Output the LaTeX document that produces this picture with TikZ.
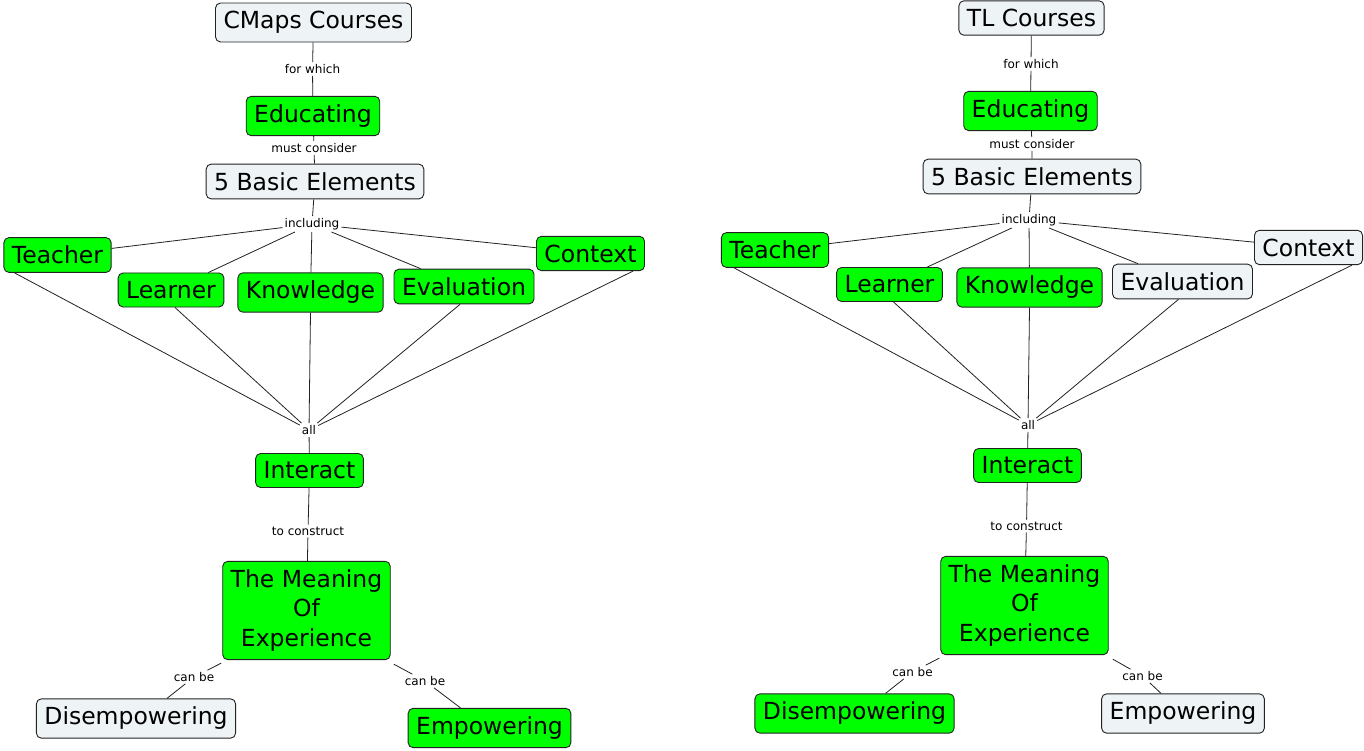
\documentclass[tikz,border=0pt]{standalone}
\usepackage{fontspec}
\setmainfont{DejaVu Sans}
\definecolor{cgreen}{HTML}{00FF00}
\definecolor{cwhite}{HTML}{EEF3F6}
\definecolor{cline}{HTML}{222222}
\begin{document}
\begin{tikzpicture}[x=1pt,y=-1pt,
  concept/.style={draw=cline, line width=0.9pt, rounded corners=5pt, inner xsep=8pt, inner ysep=8.3pt, font=\fontsize{23.5}{29.5}\selectfont, align=center},
  gbox/.style={concept, fill=cgreen},
  wbox/.style={concept, fill=cwhite},
  lab/.style={inner sep=2pt, font=\fontsize{12}{14}\selectfont},
  link/.style={draw=cline, line width=0.8pt}]
\useasboundingbox[fill=white] (0,0) rectangle (1364,750);

% ---------- left map ----------
\node[wbox] (cc) at (313.5,22.5) {CMaps Courses};
\node[lab]  (fw) at (312.5,69) {for which};
\node[gbox] (ed) at (313,116) {Educating};
\node[lab]  (mc) at (314,148) {must consider};
\node[wbox] (bb) at (315,181.5) {5 Basic Elements};
\node[lab]  (inc) at (312,224) {including};
\node[gbox] (te) at (57.5,255) {Teacher};
\node[gbox] (le) at (171,290) {Learner};
\node[gbox] (kn) at (310.5,292.5) {Knowledge};
\node[gbox] (ev) at (464,286.5) {Evaluation};
\node[gbox] (co) at (590.5,253.5) {Context};
\node[lab]  (al) at (309,430) {all};
\node[gbox] (in) at (309.5,470.5) {Interact};
\node[lab]  (tc) at (308,531) {to construct};
\node[gbox] (me) at (306.5,610.5) {The Meaning\\Of\\Experience};
\node[lab]  (cb1) at (194,677) {can be};
\node[lab]  (cb2) at (425,681) {can be};
\node[wbox] (di) at (136,718.5) {Disempowering};
\node[gbox] (em) at (489.5,728) {Empowering};

\path[link] (cc) -- (fw) -- (ed);
\path[link] (ed) -- (mc) -- (bb);
\path[link] (bb) -- (inc);
\path[link] (inc) -- (te);
\path[link] (inc) -- (le);
\path[link] (inc) -- (kn);
\path[link] (inc) -- (ev);
\path[link] (inc) -- (co);
\path[link] ([xshift=11pt]te.south west) -- (al);
\path[link] ([xshift=4pt]le.south) -- (al);
\path[link] (kn.south) -- (al);
\path[link] ([xshift=-4pt]ev.south) -- (al);
\path[link] ([xshift=-12pt]co.south east) -- (al);
\path[link] (al) -- (in);
\path[link] (in) -- (tc) -- (me);
\path[link] ([shift={(-1,3)}]me.south west) -- (cb1) -- ([xshift=31pt]di.north);
\path[link] ([shift={(3,4)}]me.south east) -- (cb2) -- ([xshift=-29pt]em.north);

% ---------- right map ----------
\node[wbox] (tl) at (1031.5,18) {TL Courses};
\node[lab]  (fw2) at (1031,64) {for which};
\node[gbox] (ed2) at (1030.5,111) {Educating};
\node[lab]  (mc2) at (1032,144) {must consider};
\node[wbox] (bb2) at (1032,176.5) {5 Basic Elements};
\node[lab]  (inc2) at (1029,220) {including};
\node[gbox] (te2) at (775,250) {Teacher};
\node[gbox] (le2) at (889.5,284.5) {Learner};
\node[gbox] (kn2) at (1029.5,287.5) {Knowledge};
\node[wbox] (ev2) at (1182.5,281.5) {Evaluation};
\node[wbox] (co2) at (1308.5,247.5) {Context};
\node[lab]  (al2) at (1028,425) {all};
\node[gbox] (in2) at (1027.5,465.5) {Interact};
\node[lab]  (tc2) at (1026.5,526) {to construct};
\node[gbox] (me2) at (1024.5,605.5) {The Meaning\\Of\\Experience};
\node[lab]  (cb3) at (912.5,672) {can be};
\node[lab]  (cb4) at (1142.5,676) {can be};
\node[gbox] (di2) at (854.5,713.5) {Disempowering};
\node[wbox] (em2) at (1183,713.5) {Empowering};

\path[link] (tl) -- (fw2) -- (ed2);
\path[link] (ed2) -- (mc2) -- (bb2);
\path[link] (bb2) -- (inc2);
\path[link] (inc2) -- (te2);
\path[link] (inc2) -- (le2);
\path[link] (inc2) -- (kn2);
\path[link] (inc2) -- (ev2);
\path[link] (inc2) -- (co2);
\path[link] ([xshift=13pt]te2.south west) -- (al2);
\path[link] ([xshift=4pt]le2.south) -- (al2);
\path[link] (kn2.south) -- (al2);
\path[link] ([xshift=-4pt]ev2.south) -- (al2);
\path[link] ([xshift=-11pt]co2.south east) -- (al2);
\path[link] (al2) -- (in2);
\path[link] (in2) -- (tc2) -- (me2);
\path[link] ([shift={(-1,3)}]me2.south west) -- (cb3) -- ([xshift=31pt]di2.north);
\path[link] ([shift={(4,4)}]me2.south east) -- (cb4) -- ([xshift=-22pt]em2.north);
\end{tikzpicture}
\end{document}
